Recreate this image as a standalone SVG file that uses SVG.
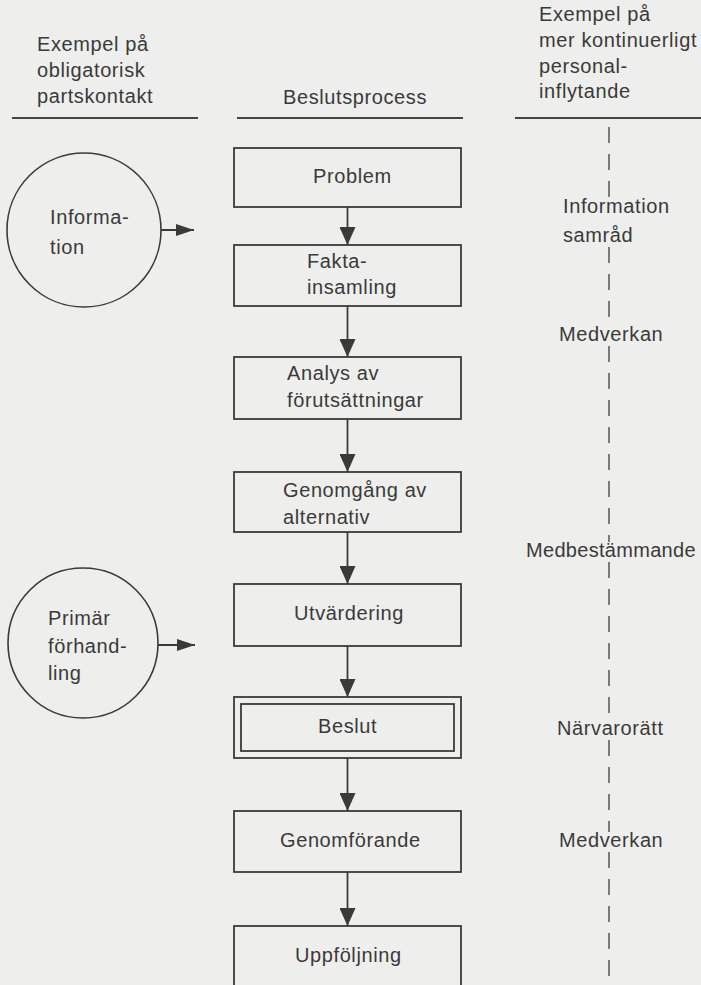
<svg xmlns="http://www.w3.org/2000/svg" width="701" height="985" viewBox="0 0 701 985">
  <style>
    .t { font-family: "Liberation Sans", Arial, sans-serif; font-size: 20px; letter-spacing: 0.6px; fill: #3a3a3a; }
    .box { fill: none; stroke: #3a3a3a; stroke-width: 1.8; }
    .circ { fill: none; stroke: #3a3a3a; stroke-width: 1.6; }
    .rule { stroke: #444; stroke-width: 2; }
    .arrow { fill: none; stroke: #3a3a3a; stroke-width: 1.8; }
    .dash { fill: none; stroke: #555; stroke-width: 1.5; stroke-dasharray: 16 11; }
  </style>
  <defs>
    <marker id="head" markerUnits="userSpaceOnUse" markerWidth="18" markerHeight="16" refX="18" refY="8" orient="auto">
      <path d="M0,0 L18,8 L0,16 z" fill="#3a3a3a"/>
    </marker>
    <marker id="headNarrow" markerUnits="userSpaceOnUse" markerWidth="18" markerHeight="12" refX="18" refY="6" orient="auto">
      <path d="M0,0 L18,6 L0,12 z" fill="#3a3a3a"/>
    </marker>
  </defs>

  <rect x="0" y="0" width="701" height="985" fill="#eeeeec"/>

  <!-- column headings -->
  <g id="heading-left">
    <text class="t" x="37" y="51">Exempel på</text>
    <text class="t" x="37" y="77">obligatorisk</text>
    <text class="t" x="37" y="103">partskontakt</text>
    <line class="rule" x1="12" y1="118" x2="198" y2="118"/>
  </g>
  <g id="heading-middle">
    <text class="t" x="283" y="104">Beslutsprocess</text>
    <line class="rule" x1="237" y1="118" x2="463" y2="118"/>
  </g>
  <g id="heading-right">
    <text class="t" x="539" y="21">Exempel på</text>
    <text class="t" x="539" y="47">mer kontinuerligt</text>
    <text class="t" x="539" y="73">personal-</text>
    <text class="t" x="539" y="98">inflytande</text>
    <line class="rule" x1="515" y1="118" x2="701" y2="118"/>
  </g>

  <!-- mandatory contact with the parties -->
  <g id="information">
    <circle class="circ" cx="84" cy="230" r="77"/>
    <text class="t" x="50" y="224">Informa-</text>
    <text class="t" x="50" y="254">tion</text>
  </g>
  <g id="primar-forhandling">
    <circle class="circ" cx="83" cy="643" r="75"/>
    <text class="t" x="48" y="625">Primär</text>
    <text class="t" x="48" y="653">förhand-</text>
    <text class="t" x="48" y="680">ling</text>
  </g>

  <!-- decision process steps -->
  <g id="problem">
    <rect class="box" x="234" y="148" width="227" height="59"/>
    <text class="t" x="313" y="183">Problem</text>
  </g>
  <g id="faktainsamling">
    <rect class="box" x="234" y="245" width="227" height="61"/>
    <text class="t" x="307" y="268">Fakta-</text>
    <text class="t" x="307" y="294">insamling</text>
  </g>
  <g id="analys">
    <rect class="box" x="234" y="357" width="227" height="62"/>
    <text class="t" x="287" y="380">Analys av</text>
    <text class="t" x="287" y="407">förutsättningar</text>
  </g>
  <g id="genomgang">
    <rect class="box" x="234" y="472" width="227" height="60"/>
    <text class="t" x="283" y="497">Genomgång av</text>
    <text class="t" x="283" y="524">alternativ</text>
  </g>
  <g id="utvardering">
    <rect class="box" x="234" y="584" width="227" height="62"/>
    <text class="t" x="294" y="620">Utvärdering</text>
  </g>
  <g id="beslut">
    <rect class="box" x="234" y="697" width="227" height="61"/>
    <rect class="box" x="241" y="704" width="213" height="47"/>
    <text class="t" x="318" y="733">Beslut</text>
  </g>
  <g id="genomforande">
    <rect class="box" x="234" y="811" width="227" height="61"/>
    <text class="t" x="280" y="847">Genomförande</text>
  </g>
  <g id="uppfoljning">
    <rect class="box" x="234" y="926" width="227" height="61"/>
    <text class="t" x="295" y="962">Uppföljning</text>
  </g>

  <!-- continuous staff influence -->
  <g id="inflytande">
    <text class="t" x="563" y="213">Information</text>
    <text class="t" x="563" y="242">samråd</text>
    <text class="t" x="559" y="341">Medverkan</text>
    <text class="t" x="526" y="557" style="letter-spacing:0.3px">Medbestämmande</text>
    <text class="t" x="557" y="735">Närvarorätt</text>
    <text class="t" x="559" y="847">Medverkan</text>
  </g>

  <g id="connectors">
    <line class="arrow" x1="347.5" y1="207" x2="347.5" y2="245" marker-end="url(#head)"/>
    <line class="arrow" x1="347.5" y1="306" x2="347.5" y2="357" marker-end="url(#head)"/>
    <line class="arrow" x1="347.5" y1="419" x2="347.5" y2="472" marker-end="url(#head)"/>
    <line class="arrow" x1="347.5" y1="532" x2="347.5" y2="584" marker-end="url(#head)"/>
    <line class="arrow" x1="347.5" y1="646" x2="347.5" y2="697" marker-end="url(#head)"/>
    <line class="arrow" x1="347.5" y1="758" x2="347.5" y2="811" marker-end="url(#head)"/>
    <line class="arrow" x1="347.5" y1="872" x2="347.5" y2="926" marker-end="url(#head)"/>
    <line class="arrow" x1="161" y1="230" x2="194" y2="230" marker-end="url(#headNarrow)"/>
    <line class="arrow" x1="158" y1="645" x2="195" y2="645" marker-end="url(#headNarrow)"/>
    <!-- dashed divider, broken around its labels -->
    <line class="dash" x1="609" y1="127" x2="609" y2="199"/>
    <line class="dash" x1="609" y1="247" x2="609" y2="327"/>
    <line class="dash" x1="609" y1="346" x2="609" y2="542"/>
    <line class="dash" x1="609" y1="562" x2="609" y2="720"/>
    <line class="dash" x1="609" y1="740" x2="609" y2="832"/>
    <line class="dash" x1="609" y1="852" x2="609" y2="985"/>
  </g>
</svg>
